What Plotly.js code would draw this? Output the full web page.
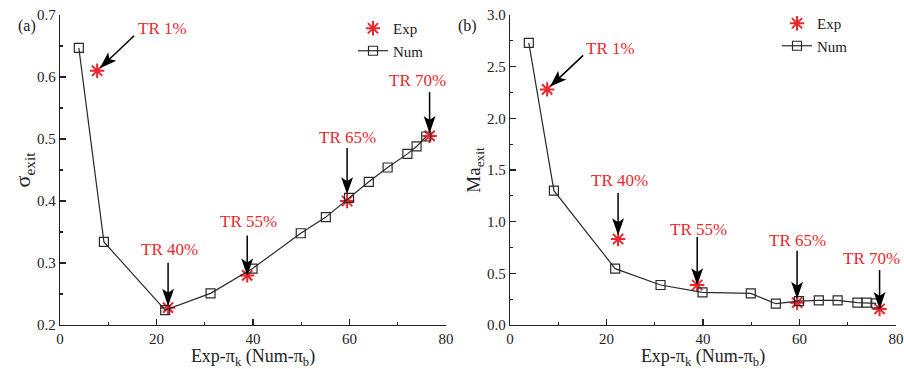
<!DOCTYPE html>
<html>
<head>
<meta charset="utf-8">
<script src="https://cdn.plot.ly/plotly-3.0.1.min.js"></script>
<style>html,body{margin:0;padding:0;background:#fff;}#chart{width:904px;height:369px;}</style>
</head>
<body>
<div id="chart"></div>
<script>
// ---- data ----
var numX = [3.9, 9.1, 21.8, 31.2, 39.9, 49.9, 55.1, 59.9, 64.0, 67.9, 72.0, 73.9, 75.9];
var numSigma = [0.647, 0.334, 0.224, 0.251, 0.291, 0.348, 0.374, 0.405, 0.431, 0.454, 0.476, 0.488, 0.504];
var numMa = [2.73, 1.30, 0.545, 0.387, 0.316, 0.306, 0.206, 0.232, 0.239, 0.239, 0.216, 0.216, 0.21];
var expX = [7.7, 22.4, 38.8, 59.5, 76.6];
var expSigma = [0.610, 0.228, 0.280, 0.400, 0.505];
var expMa = [2.28, 0.832, 0.387, 0.216, 0.155];
var trLabels = ['TR 1%', 'TR 40%', 'TR 55%', 'TR 65%', 'TR 70%'];

// ---- styles ----
var FONT = '"Liberation Serif", "Times New Roman", serif';
var RED = '#e8282e';
var DARK = '#2a2a2a';
// label / arrow offsets (px) per panel
var offA = {
  tx: [65, 1, 1, 0, -12], ty: [42, 58, 54, 64, 55],
  ax: [37, 0, 0, 0, 0], ay: [-35, -45, -40, -53, -44], so: [6, 4, 2, 9, 5]
};
var offB = {
  tx: [63, 1, 1, 0, -8], ty: [41, 59, 56, 62, 50],
  ax: [36, 0, 0, 0, 0], ay: [-34, -46, -48, -52, -39], so: [6, 6, 2, 6, 2]
};

function numTrace(y, xa, ya, lg) {
  return {x: numX, y: y, xaxis: xa, yaxis: ya, legend: lg, name: 'Num', type: 'scatter',
    mode: 'lines+markers', line: {color: DARK, width: 1.2},
    marker: {symbol: 'square-open', size: 9, color: DARK, line: {width: 1.2, color: DARK}}};
}
function expTrace(y, xa, ya, lg) {
  return {x: expX, y: y, xaxis: xa, yaxis: ya, legend: lg, name: 'Exp', type: 'scatter',
    mode: 'markers', marker: {symbol: 'asterisk-open', size: 12, color: RED, line: {width: 2, color: RED}}};
}

var data = [
  expTrace(expSigma, 'x', 'y', 'legend'),
  numTrace(numSigma, 'x', 'y', 'legend'),
  expTrace(expMa, 'x2', 'y2', 'legend2'),
  numTrace(numMa, 'x2', 'y2', 'legend2')
];

var annotations = [];
var shapes = [];
var HL = 13, HW = 4.5, NOTCH = 3;
function f(v) { return v.toFixed(2); }
function addAnn(ys, xa, ya, off) {
  for (var i = 0; i < expX.length; i++) {
    annotations.push({x: expX[i], y: ys[i], xref: xa, yref: ya, text: trLabels[i], showarrow: false,
      xshift: off.tx[i], yshift: off.ty[i], font: {family: FONT, size: 17, color: RED}});
    // arrow geometry in screen px (y down), relative to the data point
    var tx = off.ax[i], ty = off.ay[i];
    var len = Math.sqrt(tx * tx + ty * ty);
    var ux = -tx / len, uy = -ty / len;
    var tipx = -ux * off.so[i], tipy = -uy * off.so[i];
    var bx = tipx - ux * HL, by = tipy - uy * HL;
    var nx = -uy, ny = ux;
    var p1x = bx + nx * HW, p1y = by + ny * HW;
    var p2x = bx - nx * HW, p2y = by - ny * HW;
    var cx = bx + ux * NOTCH, cy = by + uy * NOTCH;
    // shape pixel coords: y up
    var path = 'M' + f(tx) + ',' + f(-ty) + ' L' + f(cx) + ',' + f(-cy) +
      ' M' + f(tipx) + ',' + f(-tipy) + ' L' + f(p1x) + ',' + f(-p1y) + ' L' + f(cx) + ',' + f(-cy) +
      ' L' + f(p2x) + ',' + f(-p2y) + ' Z';
    shapes.push({type: 'path', xref: xa, yref: ya, xsizemode: 'pixel', ysizemode: 'pixel',
      xanchor: expX[i], yanchor: ys[i], path: path, fillcolor: '#000',
      line: {color: '#000', width: 1.5}, layer: 'above'});
  }
}
addAnn(expSigma, 'x', 'y', offA);
addAnn(expMa, 'x2', 'y2', offB);
annotations.push({xref: 'paper', yref: 'paper', x: 16 / 904, y: 1 - 15 / 369, text: '(a)', showarrow: false,
  font: {family: FONT, size: 16, color: '#222'}});
annotations.push({xref: 'paper', yref: 'paper', x: 467 / 904, y: 1 - 15 / 369, text: '(b)', showarrow: false,
  font: {family: FONT, size: 16, color: '#222'}});

function xAxis(domain, anchor) {
  return {domain: domain, anchor: anchor, range: [0, 80], dtick: 20, tick0: 0,
    showline: true, linecolor: '#222', linewidth: 1.3, ticks: 'inside', ticklen: 6, tickwidth: 1.3, tickcolor: '#222',
    minor: {dtick: 10, ticks: 'inside', ticklen: 3, tickwidth: 1.2, tickcolor: '#222'},
    showgrid: false, zeroline: false, automargin: false,
    tickfont: {family: FONT, size: 15, color: '#222'},
    title: {text: 'Exp-π<sub>k</sub> (Num-π<sub>b</sub>)', font: {family: FONT, size: 18, color: '#222'}, standoff: 2}};
}
function yAxis(domain, anchor, range, dtick, mdtick, title, tsize) {
  return {domain: domain, anchor: anchor, range: range, dtick: dtick, tick0: 0, tickformat: '.1f',
    showline: true, linecolor: '#222', linewidth: 1.3, ticks: 'inside', ticklen: 6, tickwidth: 1.3, tickcolor: '#222',
    minor: {dtick: mdtick, ticks: 'inside', ticklen: 3, tickwidth: 1.2, tickcolor: '#222'},
    showgrid: false, zeroline: false, automargin: false,
    tickfont: {family: FONT, size: 15, color: '#222'},
    title: {text: title, font: {family: FONT, size: tsize, color: '#222'}, standoff: 0}};
}

var yDom = [1 - 325 / 369, 1 - 15 / 369];
var layout = {
  width: 904, height: 369,
  margin: {l: 0, r: 0, t: 0, b: 0},
  paper_bgcolor: '#fff', plot_bgcolor: '#fff',
  font: {family: FONT, color: '#222'},
  xaxis: xAxis([60 / 904, 446 / 904], 'y'),
  yaxis: yAxis(yDom, 'x', [0.2, 0.7], 0.1, 0.05, 'σ<sub>exit</sub>', 22),
  xaxis2: xAxis([510 / 904, 896 / 904], 'y2'),
  yaxis2: yAxis(yDom, 'x2', [0, 3], 0.5, 0.25, 'Ma<sub>exit</sub>', 19),
  legend: {x: 353 / 904, y: 1 - 12 / 369, xanchor: 'left', yanchor: 'top', bgcolor: 'rgba(0,0,0,0)',
    font: {family: FONT, size: 15, color: '#222'}, tracegroupgap: 0},
  legend2: {x: 777 / 904, y: 1 - 7 / 369, xanchor: 'left', yanchor: 'top', bgcolor: 'rgba(0,0,0,0)',
    font: {family: FONT, size: 15, color: '#222'}, tracegroupgap: 0},
  showlegend: true,
  annotations: annotations,
  shapes: shapes
};

Plotly.newPlot('chart', data, layout, {displayModeBar: false, staticPlot: true});
</script>
</body>
</html>
